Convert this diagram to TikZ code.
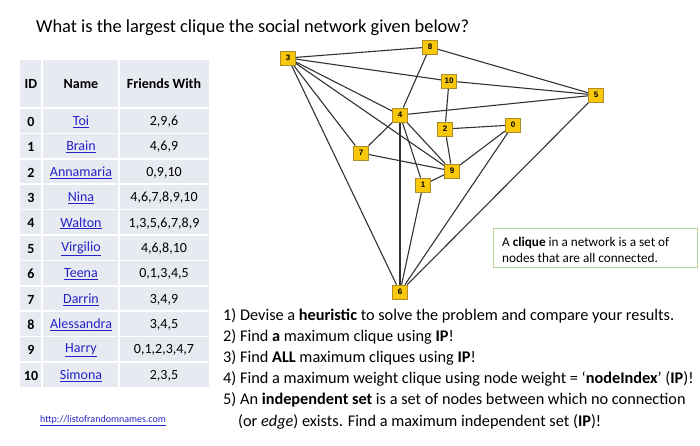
\documentclass[tikz,border=0pt]{standalone}
\usepackage{fontspec}
\setmainfont{Carlito}
\newfontfamily\arialf{Liberation Sans}
\usetikzlibrary{backgrounds}
\definecolor{nodeY}{RGB}{250,200,10}
\definecolor{nodeB}{RGB}{170,140,40}
\definecolor{edgeC}{RGB}{50,50,50}
\definecolor{tblC}{RGB}{232,234,242}
\definecolor{linkC}{RGB}{35,35,200}
\definecolor{boxG}{RGB}{180,215,150}
\tikzset{
  gnode/.style={draw=nodeB, fill=nodeY, line width=0.8pt, minimum width=15pt, minimum height=14pt, inner sep=1pt, font=\arialf\bfseries\fontsize{8}{9}\selectfont},
  gedge/.style={draw=edgeC, line width=1.1pt},
  cellt/.style={font=\fontsize{14}{16}\selectfont, anchor=center, inner sep=0pt},
  hdr/.style={font=\bfseries\fontsize{14}{16}\selectfont, anchor=center, inner sep=0pt},
  lnk/.style={font=\fontsize{14}{16}\selectfont, text=linkC, anchor=center, inner sep=0pt},
  qtxt/.style={font=\fontsize{16.3}{19}\selectfont, anchor=base west, inner sep=0pt},
}
\newcommand{\ulnk}[1]{\underline{#1}}
\begin{document}
\begin{tikzpicture}[x=1pt,y=-1pt]
\useasboundingbox (0,0) rectangle (700,445);
% title
\node[anchor=base west, inner sep=0pt, font=\fontsize{18.4}{22}\selectfont] (title) at (36,32) {What is the largest clique the social network given below?};
% table
\fill[tblC] (20,60) rectangle (209,387);
\foreach \yy in {108,133.4,158.8,184.2,209.6,235,260.4,285.8,311.2,336.6,362} {
  \draw[white, line width=1.5pt] (20,\yy) -- (209,\yy);
}
\draw[white, line width=1.5pt] (42,60) -- (42,387);
\draw[white, line width=1.5pt] (119,60) -- (119,387);
\node[hdr] (hid) at (31,84) {ID};
\node[hdr] (hname) at (81,84) {Name};
\node[hdr] (hfr) at (164,84) {Friends With};
\foreach \i/\nm/\fr in {0/Toi/{2,9,6},1/Brain/{4,6,9},2/Annamaria/{0,9,10},3/Nina/{4,6,7,8,9,10},4/Walton/{1,3,5,6,7,8,9},5/Virgilio/{4,6,8,10},6/Teena/{0,1,3,4,5},7/Darrin/{3,4,9},8/Alessandra/{3,4,5},9/Harry/{0,1,2,3,4,7},10/Simona/{2,3,5}} {
  \pgfmathsetmacro{\yc}{108+25.4*(\i+0.5)+1}
  \node[hdr] (id\i) at (31,\yc) {\i};
  \node[lnk] (nm\i) at (81,\yc) {\ulnk{\nm}};
  \node[cellt] (fr\i) at (164,\yc) {\fr};
}
\node[anchor=center, inner sep=0pt, text=linkC, font=\fontsize{10}{11}\selectfont] (url) at (103,421) {\underline{http://listofrandomnames.com}};
% graph nodes
\node[gnode] (n3) at (288,58) {3};
\node[gnode] (n8) at (430,47) {8};
\node[gnode] (n10) at (449,81) {10};
\node[gnode] (n5) at (596,95) {5};
\node[gnode] (n4) at (400,115) {4};
\node[gnode] (n2) at (445,129) {2};
\node[gnode] (n0) at (513,125) {0};
\node[gnode] (n7) at (361,153) {7};
\node[gnode] (n9) at (452,171) {9};
\node[gnode] (n1) at (423,185) {1};
\node[gnode] (n6) at (400,292) {6};
\begin{scope}[on background layer]
\foreach \a/\b in {0/2,0/9,0/6,1/4,1/6,1/9,2/9,2/10,3/4,3/6,3/7,3/8,3/9,3/10,4/5,4/6,4/7,4/8,4/9,5/6,5/8,5/10,7/9} {
  \draw[gedge] (n\a) -- (n\b);
}
\end{scope}
% clique box
\draw[boxG, line width=1pt] (493,228) rectangle (697,267);
\node[anchor=base west, inner sep=0pt, font=\fontsize{13.2}{16}\selectfont] (c1) at (502,246) {A \textbf{clique} in a network is a set of};
\node[anchor=base west, inner sep=0pt, font=\fontsize{13.2}{16}\selectfont] (c2) at (502,262) {nodes that are all connected.};
% questions
\node[qtxt] (q1) at (223,320) {1) Devise a \textbf{heuristic} to solve the problem and compare your results.};
\node[qtxt] (q2) at (223,341.2) {2) Find \textbf{a} maximum clique using \textbf{IP}!};
\node[qtxt] (q3) at (223,362.4) {3) Find \textbf{ALL} maximum cliques using \textbf{IP}!};
\node[qtxt] (q4) at (223,383.6) {4) Find a maximum weight clique using node weight = `\textbf{nodeIndex}' (\textbf{IP})!};
\node[qtxt] (q5) at (223,404.8) {5) An \textbf{independent set} is a set of nodes between which no connection};
\node[qtxt] (q6) at (238,426) {(or \textit{edge}) exists. Find a maximum independent set (\textbf{IP})!};
\end{tikzpicture}
\end{document}
